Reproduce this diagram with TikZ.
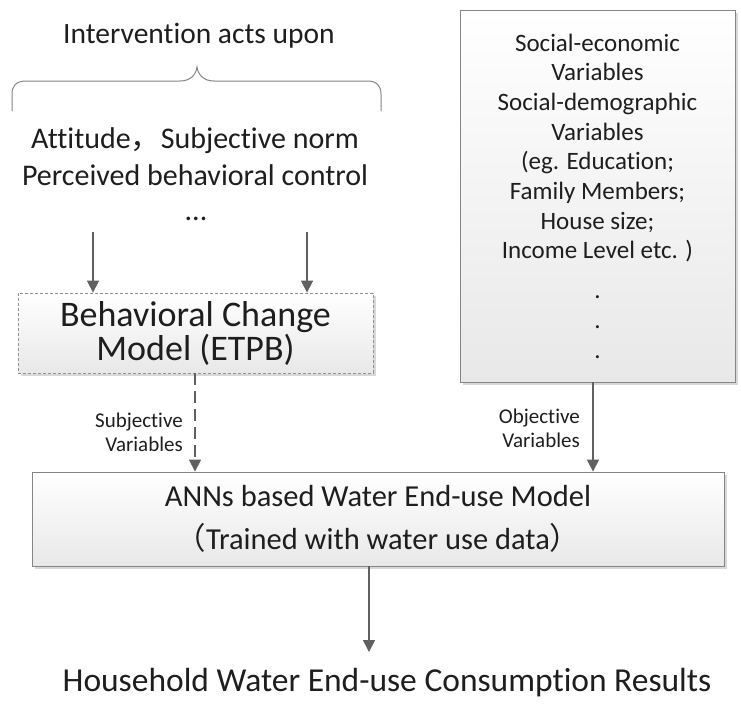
\documentclass[tikz,border=0pt]{standalone}
\usepackage{fontspec}
\setmainfont{Carlito}[Ligatures={NoCommon}]
\newfontfamily\cjk{Noto Sans CJK SC}
\usetikzlibrary{arrows.meta,shadows}
\definecolor{txt}{HTML}{1E1E1E}
\definecolor{arr}{HTML}{606060}
\definecolor{bord}{HTML}{858585}
\tikzset{
  fs/.style 2 args={font=\fontsize{#1}{#2}\selectfont},
  plain/.style={text=txt, inner sep=0pt, align=center},
  boxstyle/.style={draw=bord, line width=0.9pt, top color=white, bottom color=black!9,
     drop shadow={shadow xshift=2.5pt, shadow yshift=-2.5pt, fill=black!25, opacity=0.6},
     text=txt, align=center, inner sep=0pt},
  conn/.style={draw=arr, line width=1.6pt, -{Triangle[width=12pt,length=12pt]}},
  lbl/.style={text=txt, inner sep=0pt, align=right, font=\fontsize{21}{24}\selectfont},
}
\begin{document}
\begin{tikzpicture}[x=1pt,y=-1pt]
\useasboundingbox (0,0) rectangle (741,704);
\fill[white] (0,0) rectangle (741,704);
% top text and brace
\node[plain, fs={29.5}{34}] (title) at (199,36) {Intervention acts upon};
\draw[bord, line width=1pt] (12,111) -- (12,94) .. controls (12,86) and (16,81) .. (26,81)
  -- (180,81) .. controls (190,81) and (196,75) .. (197,67)
  .. controls (198,75) and (204,81) .. (214,81)
  -- (367,81) .. controls (377,81) and (381,86) .. (381,94) -- (381,111);
\node[plain, fs={30}{37}] (attrs) at (195,157) {Attitude{\cjk ，}Subjective norm\\Perceived behavioral control};
\node[plain, fs={30}{34}, anchor=base] (dots) at (196,220) {...};
% behavioral change model
\node[boxstyle, draw=bord!90, dashed, dash pattern=on 3pt off 2pt, line width=0.8pt,
  minimum width=355pt, minimum height=80pt, fs={36}{34}] (bcm) at (195.5,333)
  {Behavioral Change\\Model (ETPB)};
\coordinate (a1) at (93,232);
\coordinate (a2) at (307,232);
\draw[conn] (a1) -- (a1 |- bcm.north);
\draw[conn] (a2) -- (a2 |- bcm.north);
% right box
\node[boxstyle, minimum width=275pt, minimum height=372pt, fs={25}{29.7}] (rbox) at (597.5,196)
  {Social-economic\\Variables\\Social-demographic\\Variables\\(eg. Education;\\Family Members;\\House size;\\Income Level etc. )\\[10pt].\\.\\.};
% main box
\node[boxstyle, minimum width=692pt, minimum height=94pt, fs={30.5}{43}] (main) at (378,519)
  {ANNs based Water End-use Model\\{\cjk （}Trained with water use data{\cjk ）}};
% connectors into main
\coordinate (s1) at (195,373);
\draw[conn, dash pattern=on 12pt off 6pt] (s1) -- (s1 |- main.north);
\node[lbl, anchor=east] (subj) at (183,432) {Subjective\\Variables};
\coordinate (r1) at (593,382);
\draw[conn] (r1) -- (r1 |- main.north);
\node[lbl, anchor=east] (obj) at (580,428) {Objective\\Variables};
% output
\coordinate (b1) at (369,566);
\coordinate (b2) at (369,652);
\draw[conn] (b1) -- (b2);
\node[plain, fs={33.5}{36}] (res) at (387,683) {Household Water End-use Consumption Results};
\end{tikzpicture}
\end{document}
